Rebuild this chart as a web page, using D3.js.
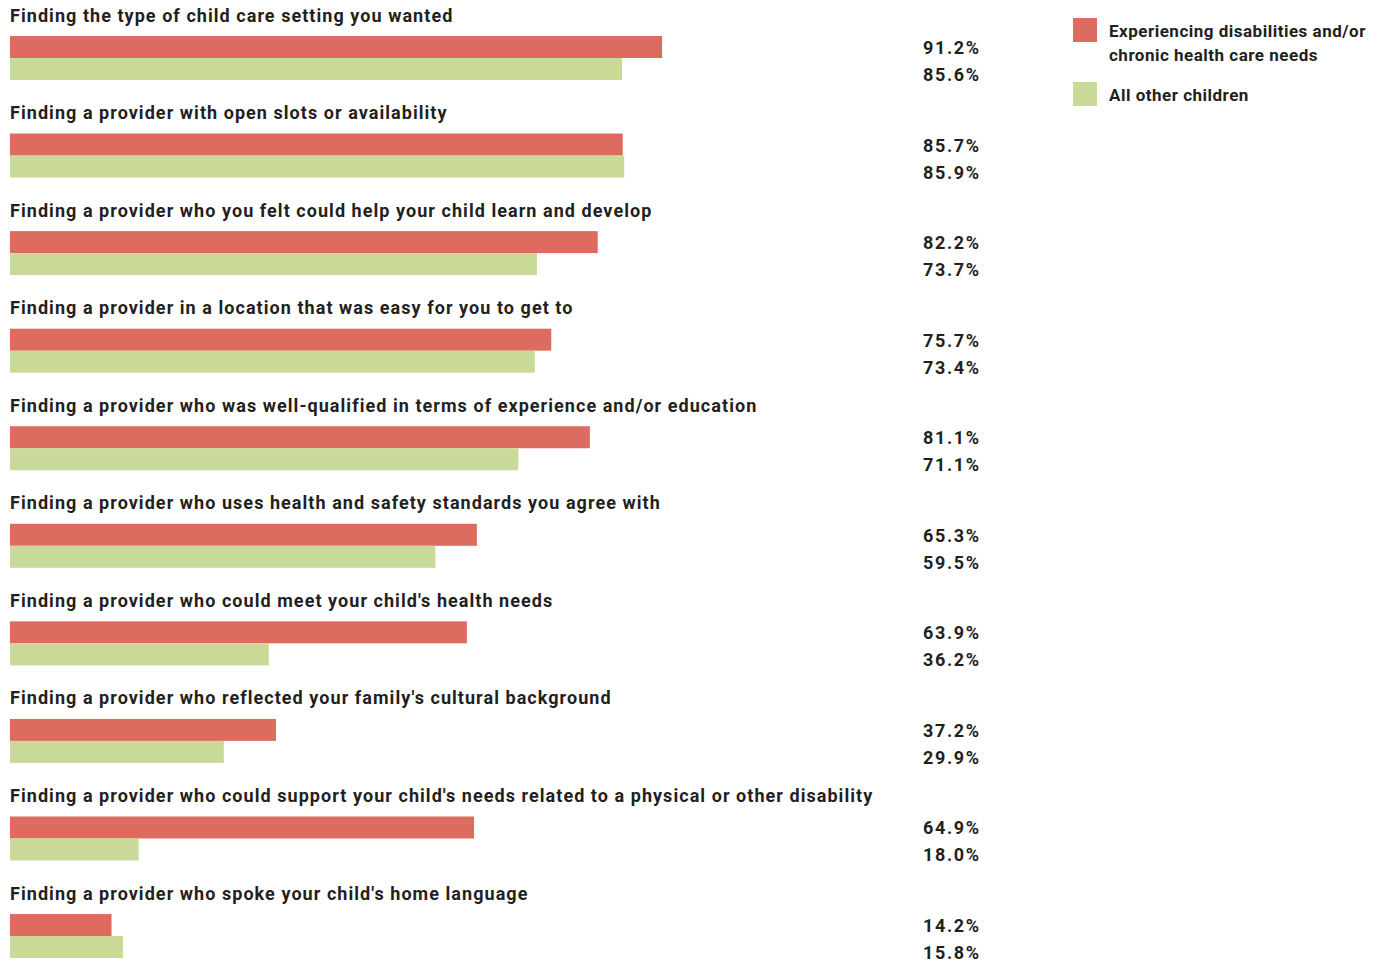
<!DOCTYPE html>
<html>
<head>
<meta charset="utf-8">
<script src="https://cdn.jsdelivr.net/npm/d3@7"></script>
<style>
  html, body { margin: 0; padding: 0; background: #fff; }
  svg text { font-family: Roboto, "DejaVu Sans Condensed", sans-serif; font-weight: 700; fill: #231f20; }
</style>
</head>
<body>
<svg id="chart" width="1382" height="964"></svg>
<script>
const categories = [
  "Finding the type of child care setting you wanted",
  "Finding a provider with open slots or availability",
  "Finding a provider who you felt could help your child learn and develop",
  "Finding a provider in a location that was easy for you to get to",
  "Finding a provider who was well-qualified in terms of experience and/or education",
  "Finding a provider who uses health and safety standards you agree with",
  "Finding a provider who could meet your child's health needs",
  "Finding a provider who reflected your family's cultural background",
  "Finding a provider who could support your child's needs related to a physical or other disability",
  "Finding a provider who spoke your child's home language"
];
const disabilityValues = [91.2, 85.7, 82.2, 75.7, 81.1, 65.3, 63.9, 37.2, 64.9, 14.2];
const otherValues      = [85.6, 85.9, 73.7, 73.4, 71.1, 59.5, 36.2, 29.9, 18.0, 15.8];
const seriesNames = ["Experiencing disabilities and/or", "chronic health care needs", "All other children"];
const seriesColors = ["#de6b60", "#c9da98"];

const svg = d3.select("#chart");

const x = d3.scaleLinear().domain([0, 100]).range([10, 725]);
const y = d3.scaleBand().domain(d3.range(categories.length)).range([0, 975.6]);
const barH = 22;

const rows = svg.selectAll("g.row")
  .data(categories)
  .join("g")
  .attr("class", "row")
  .attr("transform", (d, i) => `translate(0,${y(i)})`);

// category titles
rows.append("text")
  .attr("x", 10)
  .attr("y", 21.5)
  .attr("font-size", 18)
  .attr("letter-spacing", 1.05)
  .text(d => d);

// paired bars
rows.append("rect")
  .attr("x", x(0))
  .attr("y", 36)
  .attr("height", barH)
  .attr("width", (d, i) => x(disabilityValues[i]) - x(0))
  .attr("fill", seriesColors[0]);

rows.append("rect")
  .attr("x", x(0))
  .attr("y", 36 + barH)
  .attr("height", barH)
  .attr("width", (d, i) => x(otherValues[i]) - x(0))
  .attr("fill", seriesColors[1]);

// value labels
rows.append("text")
  .attr("x", 980.6)
  .attr("y", 54)
  .attr("text-anchor", "end")
  .attr("font-size", 18)
  .attr("letter-spacing", 1.6)
  .text((d, i) => disabilityValues[i].toFixed(1) + "%");

rows.append("text")
  .attr("x", 980.6)
  .attr("y", 81)
  .attr("text-anchor", "end")
  .attr("font-size", 18)
  .attr("letter-spacing", 1.6)
  .text((d, i) => otherValues[i].toFixed(1) + "%");

// legend
const legend = svg.append("g").attr("transform", "translate(1073,18)");
legend.append("rect").attr("width", 24).attr("height", 24).attr("fill", seriesColors[0]);
legend.append("text").attr("x", 36).attr("y", 19).attr("font-size", 17).attr("letter-spacing", 0.5).text(seriesNames[0]);
legend.append("text").attr("x", 36).attr("y", 43).attr("font-size", 17).attr("letter-spacing", 0.5).text(seriesNames[1]);
legend.append("rect").attr("y", 64).attr("width", 24).attr("height", 24).attr("fill", seriesColors[1]);
legend.append("text").attr("x", 36).attr("y", 83).attr("font-size", 17).attr("letter-spacing", 0.5).text(seriesNames[2]);
</script>
</body>
</html>
